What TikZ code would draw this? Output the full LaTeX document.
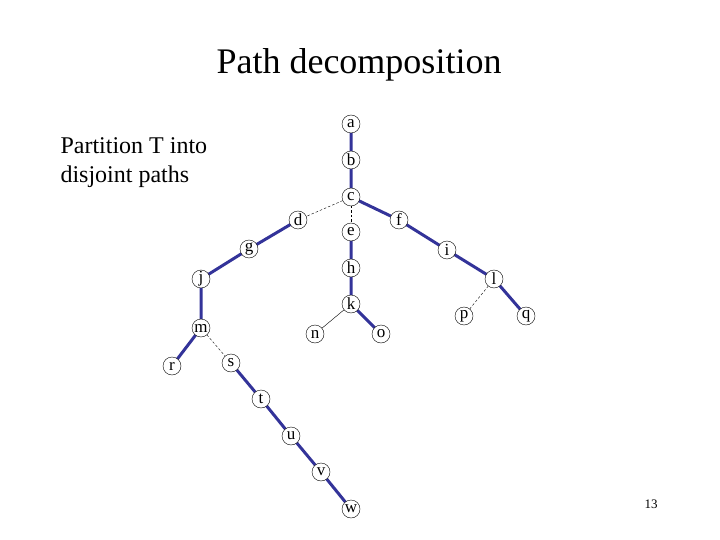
\documentclass[tikz,border=0pt]{standalone}
\usepackage{fontspec}
\setmainfont{Liberation Serif}
\usepackage{xcolor}
\usetikzlibrary{positioning}
\definecolor{pathblue}{RGB}{51,51,153}
\tikzset{
	vert/.style={circle, draw=black, thin, fill=white, inner sep=0pt, minimum size=18pt, font=\fontsize{17}{17}\selectfont},
	heavy/.style={draw=pathblue, line width=3pt},
	light/.style={draw=black, thin, dashed, dash pattern=on 2.5pt off 2pt},
	lightsolid/.style={draw=black, thin}
}

\begin{document}
\begin{tikzpicture}[x=1pt, y=-1pt]
				\useasboundingbox (0,0) rectangle (720,540);
				
				\node[font=\fontsize{36}{36}\selectfont] (title) at (359,65) {Path decomposition};
				\node[font=\fontsize{24}{29}\selectfont, align=left, anchor=north west] (note) at (57,134) {Partition T into\\disjoint paths};
				\node[font=\fontsize{13}{13}\selectfont] (pagenum) at (651,504) {13};
				
				\coordinate (A) at (351,124);
				\coordinate (B) at (351,160);
				\coordinate (C) at (351,197);
				\coordinate (D) at (298,220);
				\coordinate (E) at (351,232);
				\coordinate (F) at (399,220);
				\coordinate (G) at (249,249);
				\coordinate (I) at (447,250);
				\coordinate (H) at (351,268);
				\coordinate (J) at (201,279);
				\coordinate (L) at (494,279);
				\coordinate (K) at (351,304);
				\coordinate (P) at (464,316);
				\coordinate (Q) at (526,316);
				\coordinate (M) at (201,328);
				\coordinate (N) at (315,334);
				\coordinate (O) at (381,334);
				\coordinate (R) at (172,366);
				\coordinate (S) at (231,363);
				\coordinate (T) at (261,399);
				\coordinate (U) at (291,436);
				\coordinate (V) at (321,472);
				\coordinate (W) at (351,509);
				
				% heavy paths
				\draw[heavy] (A) -- (B) -- (C) -- (F) -- (I) -- (L) -- (Q);
				\draw[heavy] (D) -- (G) -- (J) -- (M) -- (R);
				\draw[heavy] (E) -- (H) -- (K) -- (O);
				\draw[heavy] (S) -- (T) -- (U) -- (V) -- (W);
				
				% light edges
				\draw[light] (C) -- (D);
				\draw[light] (C) -- (E);
				\draw[light] (M) -- (S);
				\draw[light] (L) -- (P);
				\draw[lightsolid] (K) -- (N);
				
				\node[vert] (a) at (A) {a};
				\node[vert] (b) at (B) {b};
				\node[vert] (c) at (C) {c};
				\node[vert] (d) at (D) {d};
				\node[vert] (e) at (E) {e};
				\node[vert] (f) at (F) {f};
				\node[vert] (g) at (G) {g};
				\node[vert] (i) at (I) {i};
				\node[vert] (h) at (H) {h};
				\node[vert] (j) at (J) {j};
				\node[vert] (l) at (L) {l};
				\node[vert] (k) at (K) {k};
				\node[vert] (p) at (P) {p};
				\node[vert] (q) at (Q) {q};
				\node[vert] (m) at (M) {m};
				\node[vert] (n) at (N) {n};
				\node[vert] (o) at (O) {o};
				\node[vert] (r) at (R) {r};
				\node[vert] (s) at (S) {s};
				\node[vert] (t) at (T) {t};
				\node[vert] (u) at (U) {u};
				\node[vert] (v) at (V) {v};
				\node[vert] (w) at (W) {w};
			\end{tikzpicture}
\end{document}
